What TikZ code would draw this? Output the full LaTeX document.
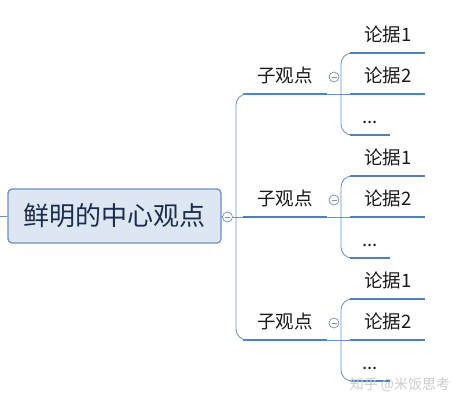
\documentclass[tikz,border=0pt]{standalone}
\usepackage{fontspec}
\setmainfont{Noto Sans CJK SC}
\definecolor{linkthick}{RGB}{79,129,189}
\definecolor{linkthin}{RGB}{105,145,203}
\definecolor{boxfill}{RGB}{221,231,243}
\definecolor{boxline}{RGB}{104,142,200}
\definecolor{navytext}{RGB}{28,45,76}
\definecolor{foldgray}{RGB}{120,142,178}
\begin{document}
\begin{tikzpicture}[x=1pt, y=-1pt,
    central/.style={draw=boxline, fill=boxfill, rounded corners=4pt, line width=1.2pt,
        minimum width=213pt, minimum height=54pt, inner sep=0pt,
        font=\fontsize{26}{30}\selectfont, text=navytext},
    topic/.style={anchor=south west, inner xsep=12pt, inner ysep=5pt, text height=14pt,
        text depth=6pt, font=\fontsize{18.5}{22}\selectfont, text=black!90},
    underline/.style={draw=linkthick, line width=2.6pt},
    branch/.style={draw=linkthin, line width=0.8pt, rounded corners=11pt},
    fold/.style={circle, draw=foldgray, fill=white, line width=0.7pt, inner sep=0pt,
        minimum size=10pt,
        path picture={\draw[foldgray, line width=0.7pt]
            ([xshift=-2.5pt]path picture bounding box.center) --
            ([xshift=2.5pt]path picture bounding box.center);}}]
    \useasboundingbox (0,0) rectangle (460,404);

    % Tema central
    \coordinate (parent) at (0,216);
    \node[central] (core) at (114.5,216) {鲜明的中心观点};
    \coordinate (j0) at (236,217);

    % Subtemas y sus argumentos
    \foreach \g/\y in {1/94, 2/217, 3/340} {
        \node[topic, minimum width=84pt] (s\g) at (243,\y) {子观点};
        \node[topic, minimum width=75pt] (a\g1) at (350,\y-41) {论据1};
        \node[topic, minimum width=75pt] (a\g2) at (350,\y) {论据2};
        \node[topic] (a\g3) at (350,\y+41) {...};
        \coordinate (j\g) at (341,\y);
        % ramas finas
        \draw[branch] (s\g.south east) -- (a\g2.south west);
        \draw[branch] (j\g) |- (a\g1.south west);
        \draw[branch] (j\g) |- (a\g3.south west);
        % subrayados
        \draw[underline] (s\g.south west) -- (s\g.south east);
        \foreach \k in {1,2,3}
            \draw[underline] (a\g\k.south west) -- (a\g\k.south east);
        \node[fold] (f\g) at (334,\y-17) {};
    }

    % Tronco principal
    \node[fold] (f0) at (227.5,217) {};
    \draw[branch] (parent) -- (core.west);
    \draw[branch] (core.east) -- (f0.west);
    \draw[branch] (f0.east) -- (s2.south west);
    \draw[branch] (j0) |- (s1.south west);
    \draw[branch] (j0) |- (s3.south west);

    % Marca de agua
    \node[text=gray!40, font=\fontsize{14}{16}\selectfont] (mark) at (400,385) {知乎 @米饭思考};
\end{tikzpicture}
\end{document}
